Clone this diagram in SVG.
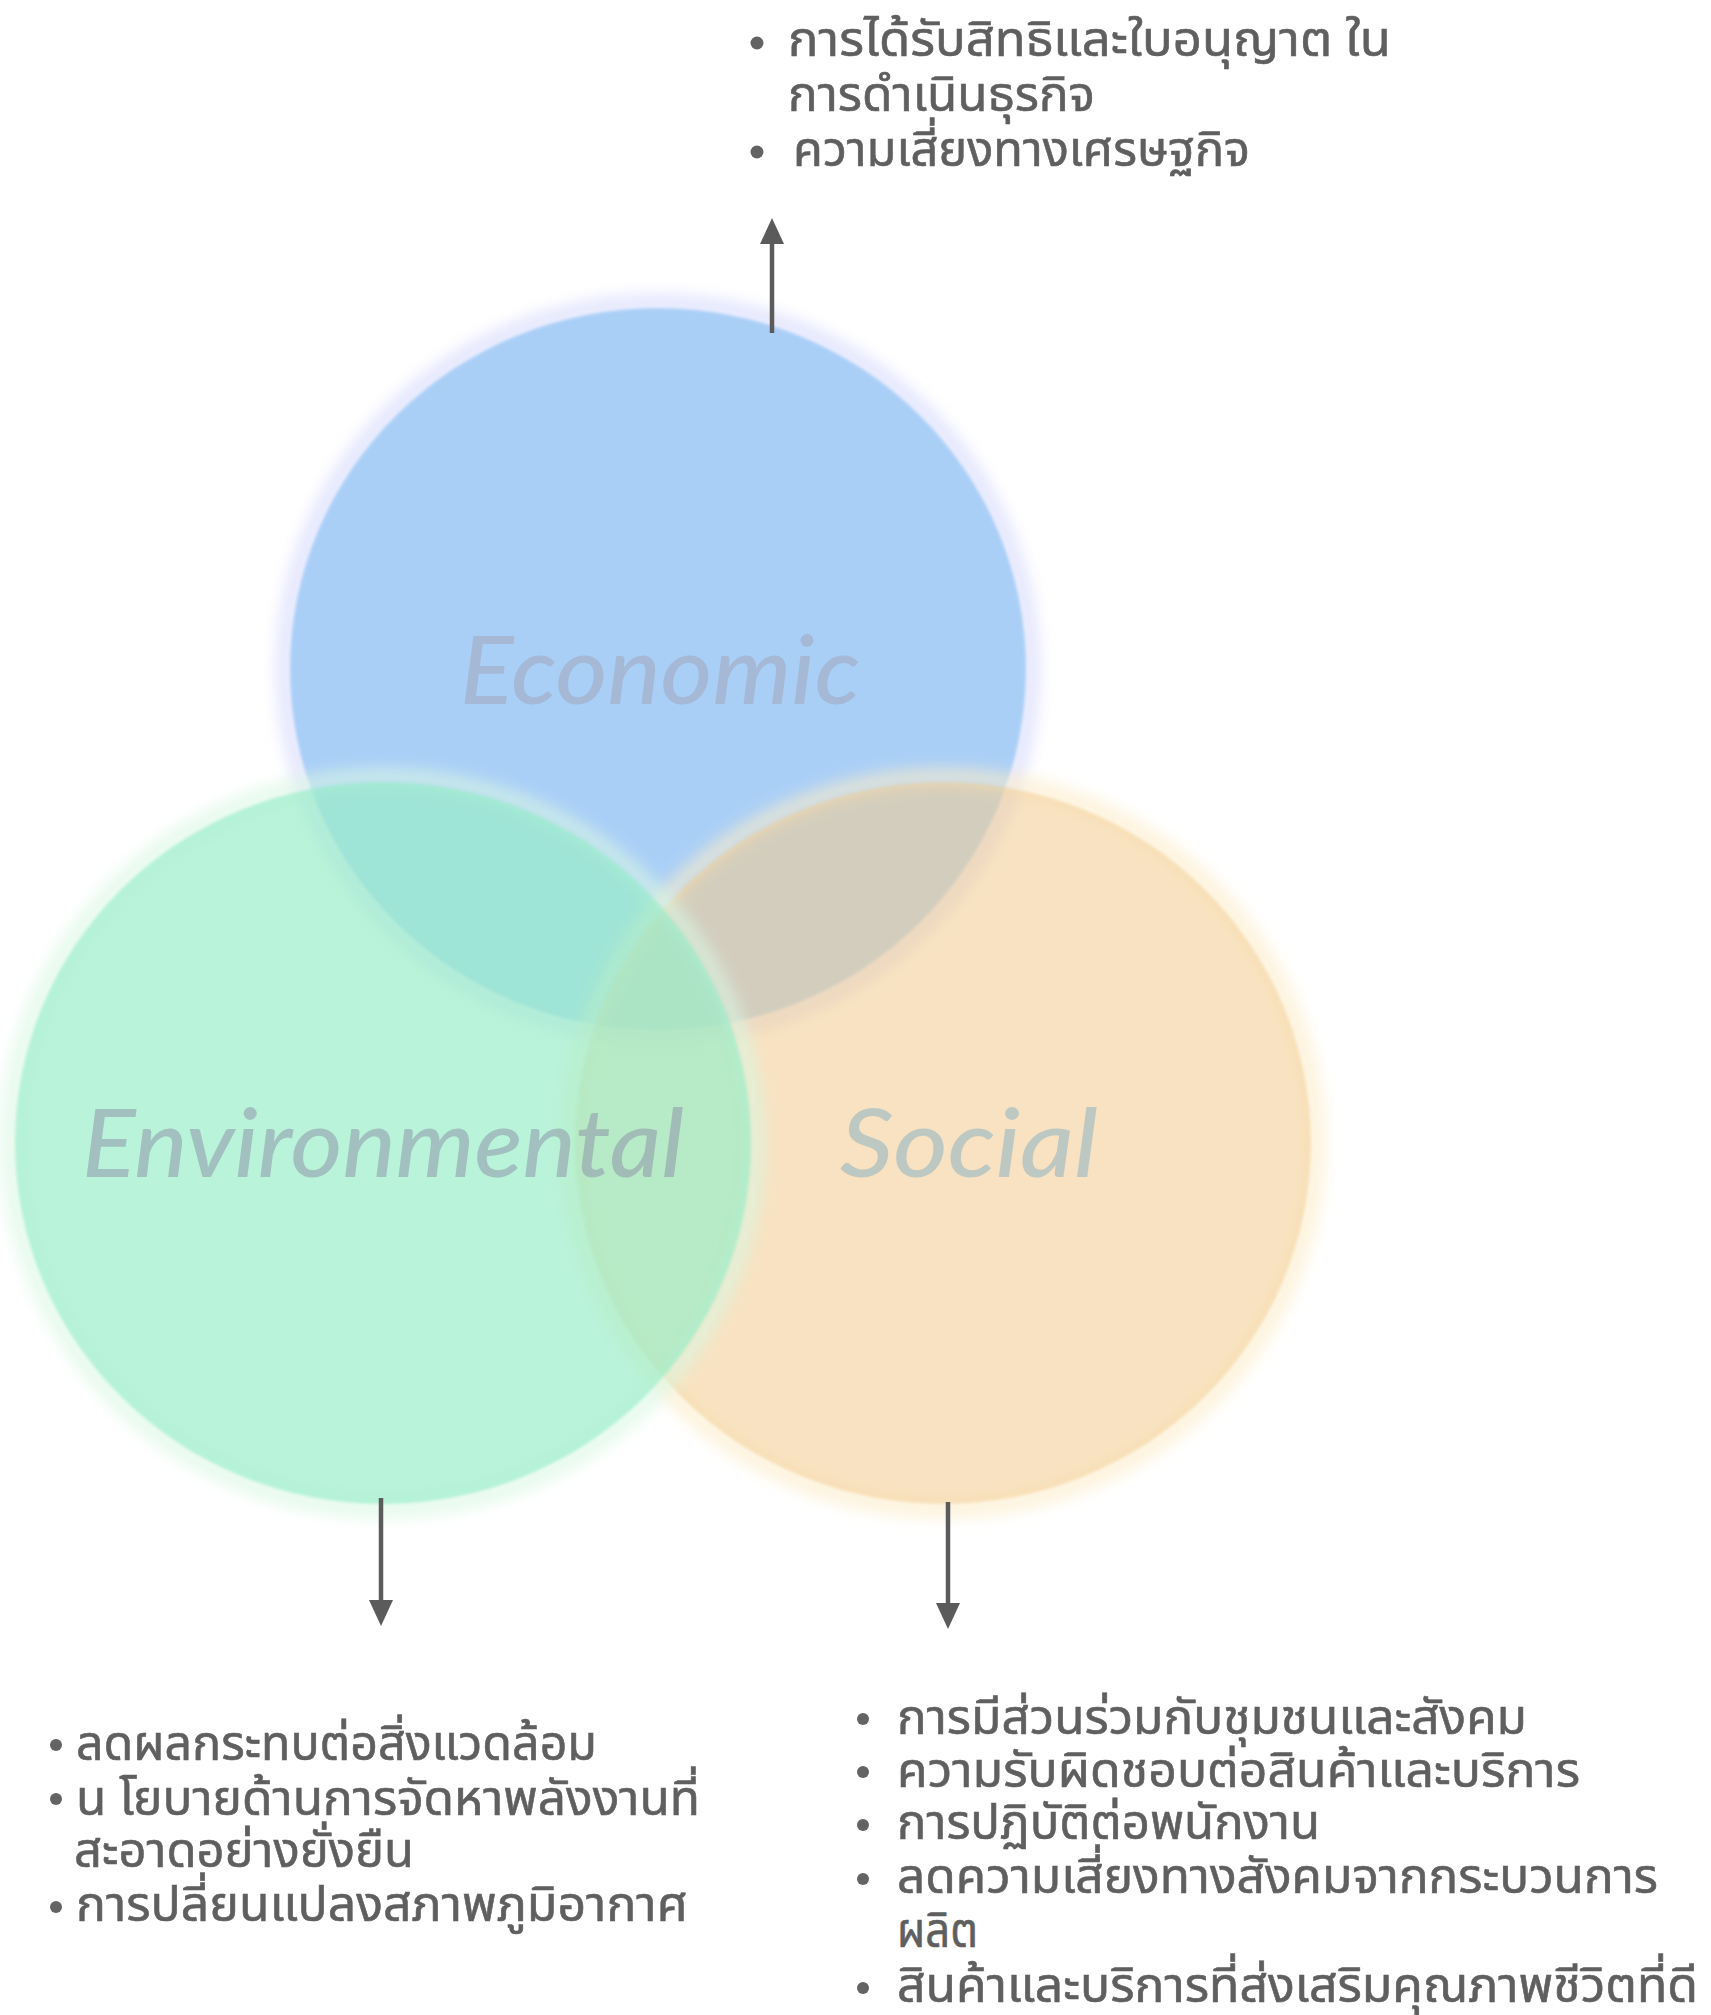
<svg xmlns="http://www.w3.org/2000/svg" width="1711" height="2015" viewBox="0 0 1711 2015">
<style>
.thai { font-family: "Noto Sans Thai", "Noto Sans Thai UI", "Noto Sans", "DejaVu Sans", sans-serif; font-size: 48px; fill: #5f5f5f; stroke: #5f5f5f; stroke-width: 0.6; }
.label { font-family: Lato, "Open Sans", sans-serif; font-style: italic; font-weight: 500; font-size: 95px; }
.conn { stroke: #5b5b5b; stroke-width: 4.5; fill: none; marker-end: url(#arrow); }
.dot { fill: #636363; }
.ring { fill: none; stroke-width: 16; stroke-opacity: 0.75; filter: url(#glow); }
</style>
<defs>
<filter id="glow" x="-20%" y="-20%" width="140%" height="140%"><feGaussianBlur stdDeviation="8"/></filter>
<filter id="soft" x="-5%" y="-5%" width="110%" height="110%"><feGaussianBlur stdDeviation="1.5"/></filter>
<marker id="arrow" markerUnits="userSpaceOnUse" markerWidth="26" markerHeight="24" viewBox="0 0 26 24" refX="2" refY="12" orient="auto"><path d="M0,0 L26,12 L0,24 Z" fill="#5b5b5b"/></marker>
</defs>
<rect width="1711" height="2015" fill="#ffffff"/>

<g id="economic">
<ellipse class="ring" cx="658" cy="669" rx="373" ry="366" stroke="#d6d8fc"/>
<ellipse cx="658" cy="669" rx="368" ry="361" fill="#AACFF7" filter="url(#soft)"/>
<text class="label" x="460" y="704" textLength="400" lengthAdjust="spacingAndGlyphs" fill="#A5B8D6">Economic</text>
</g>

<g id="social">
<ellipse class="ring" cx="943" cy="1143" rx="373" ry="366" stroke="#fcecc8"/>
<ellipse cx="943" cy="1143" rx="368" ry="361" fill="#F3CD92" opacity="0.56" filter="url(#soft)"/>
<text class="label" x="840" y="1177" textLength="258" lengthAdjust="spacingAndGlyphs" fill="#BEC8C3">Social</text>
</g>

<g id="environmental">
<ellipse class="ring" cx="383" cy="1143" rx="373" ry="366" stroke="#d8f7e3"/>
<ellipse cx="383" cy="1143" rx="368" ry="361" fill="#9AEEC9" opacity="0.69" filter="url(#soft)"/>
<text class="label" x="82" y="1177" textLength="602" lengthAdjust="spacingAndGlyphs" fill="#8B8DA6" fill-opacity="0.5">Environmental</text>
</g>

<g id="connectors">
<line class="conn" x1="772" y1="333" x2="772" y2="242"/>
<line class="conn" x1="381" y1="1498" x2="381" y2="1602"/>
<line class="conn" x1="948" y1="1502" x2="948" y2="1605"/>
</g>

<g id="economic-notes">
<circle class="dot" cx="757" cy="43" r="6.5"/>
<circle class="dot" cx="757" cy="152" r="6.5"/>
<text class="thai"><tspan x="788" y="56" textLength="603" lengthAdjust="spacingAndGlyphs">การได้รับสิทธิและใบอนุญาต ใน</tspan><tspan x="788" y="111" textLength="307" lengthAdjust="spacingAndGlyphs">การดำเนินธุรกิจ</tspan><tspan x="793" y="166" textLength="457" lengthAdjust="spacingAndGlyphs">ความเสี่ยงทางเศรษฐกิจ</tspan></text>
</g>

<g id="environmental-notes">
<circle class="dot" cx="56" cy="1745" r="6"/>
<circle class="dot" cx="56" cy="1799" r="6"/>
<circle class="dot" cx="56" cy="1907" r="6"/>
<text class="thai"><tspan x="76" y="1760" textLength="521" lengthAdjust="spacingAndGlyphs">ลดผลกระทบต่อสิ่งแวดล้อม</tspan><tspan x="76" y="1815" textLength="624" lengthAdjust="spacingAndGlyphs">น โยบายด้านการจัดหาพลังงานที่</tspan><tspan x="74" y="1867" textLength="340" lengthAdjust="spacingAndGlyphs">สะอาดอย่างยั่งยืน</tspan><tspan x="76" y="1921" textLength="612" lengthAdjust="spacingAndGlyphs">การปลี่ยนแปลงสภาพภูมิอากาศ</tspan></text>
</g>

<g id="social-notes">
<circle class="dot" cx="863" cy="1719" r="6"/>
<circle class="dot" cx="863" cy="1772" r="6"/>
<circle class="dot" cx="863" cy="1825" r="6"/>
<circle class="dot" cx="863" cy="1879" r="6"/>
<circle class="dot" cx="863" cy="1988" r="6"/>
<text class="thai"><tspan x="897" y="1734" textLength="630" lengthAdjust="spacingAndGlyphs">การมีส่วนร่วมกับชุมชนและสังคม</tspan><tspan x="897" y="1787" textLength="683" lengthAdjust="spacingAndGlyphs">ความรับผิดชอบต่อสินค้าและบริการ</tspan><tspan x="897" y="1839" textLength="423" lengthAdjust="spacingAndGlyphs">การปฏิบัติต่อพนักงาน</tspan><tspan x="897" y="1893" textLength="761" lengthAdjust="spacingAndGlyphs">ลดความเสี่ยงทางสังคมจากกระบวนการ</tspan><tspan x="897" y="1947" textLength="81" lengthAdjust="spacingAndGlyphs">ผลิต</tspan><tspan x="897" y="2002" textLength="801" lengthAdjust="spacingAndGlyphs">สินค้าและบริการที่ส่งเสริมคุณภาพชีวิตที่ดี</tspan></text>
</g>
</svg>
